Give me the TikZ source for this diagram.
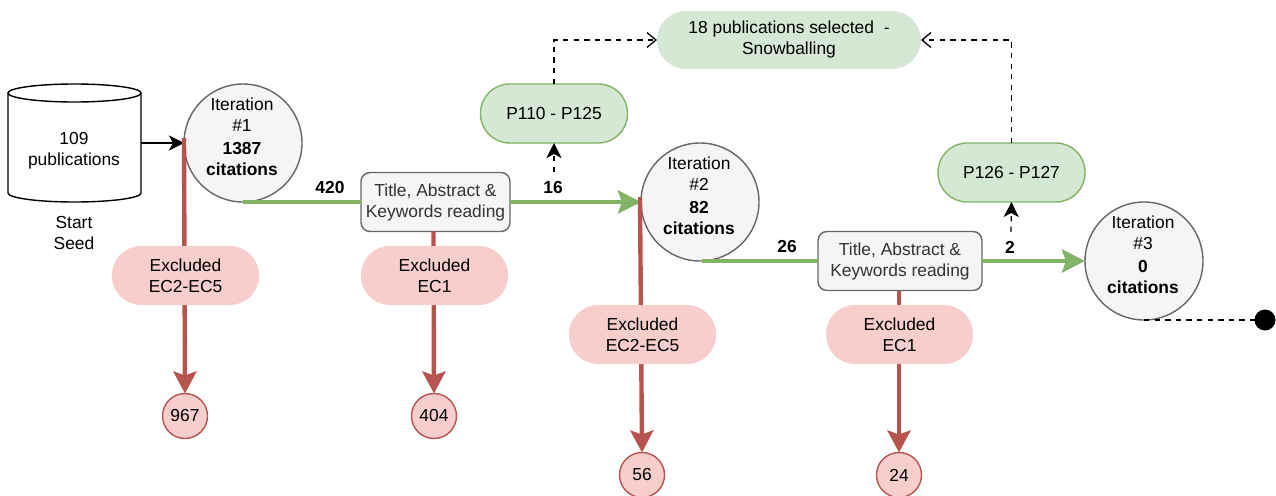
\documentclass[tikz,border=0pt]{standalone}
\usepackage{fontspec}
\setmainfont{Liberation Sans}
\usetikzlibrary{arrows.meta,calc}
\definecolor{grayfill}{HTML}{F5F5F5}
\definecolor{graydraw}{HTML}{666666}
\definecolor{greenfill}{HTML}{D5E8D4}
\definecolor{greendraw}{HTML}{82B366}
\definecolor{redfill}{HTML}{F8CECC}
\definecolor{reddraw}{HTML}{B85450}
\definecolor{boxtext}{HTML}{333333}
\tikzset{
  every node/.style={font=\fontsize{17.4}{21}\selectfont,align=center,inner sep=0pt,outer sep=0pt},
  lowered/.style={execute at begin node={\vspace*{2pt}}},
  iter/.style={circle,draw=graydraw,fill=grayfill,line width=1.4pt,minimum size=118,text=black},
  titlebox/.style={rectangle,rounded corners=9,draw=graydraw,fill=grayfill,line width=1.4pt,text=boxtext,lowered},
  greenpill/.style={rectangle,rounded corners=29,draw=greendraw,fill=greenfill,line width=1.4pt,minimum width=147,minimum height=59,lowered},
  exclpill/.style={rectangle,rounded corners=29,fill=redfill,minimum width=147,minimum height=59,lowered},
  result/.style={circle,draw=reddraw,fill=redfill,line width=1.4pt,minimum size=45},
  countlabel/.style={font=\fontsize{17.4}{21}\selectfont\bfseries},
  greenflow/.style={draw=greendraw,line width=4.6pt},
  greenarrow/.style={greenflow,-{Stealth[length=23pt,width=23pt,inset=4pt]}},
  redarrow/.style={draw=reddraw,line width=4.4pt,-{Stealth[length=22pt,width=23pt,inset=4pt]}},
  dashline/.style={draw=black,line width=1.3pt,dash pattern=on 5.3pt off 5.3pt},
  dashopen/.style={dashline,-{Straight Barb[length=9pt,width=15pt,line width=1.3pt]}},
  dashsolid/.style={dashline,-{Stealth[length=15pt,width=15pt,inset=4pt]}},
  plainarrow/.style={draw=black,line width=1.4pt,-{Stealth[length=15pt,width=15pt,inset=4pt]}},
}
\begin{document}
\begin{tikzpicture}[x=1pt,y=-1pt]
\useasboundingbox (0,0) rectangle (1276,495);
% cylinder
\draw[line width=1.4pt,fill=white] (8,93) -- (8,193) .. controls (8,198) and (38,202) .. (74.5,202) .. controls (111,202) and (141,198) .. (141,193) -- (141,93);
\draw[line width=1.4pt,fill=white] (74.5,93) ellipse [x radius=66.5pt,y radius=9pt];
\node (db) at (74,151) {109\\publications};
\coordinate (dbright) at (141,143);
\node (seed) at (74,233.5) {Start\\Seed};
% iterations
\node[iter] (it1) at (243,143) {};
\node at (242,136.7) {Iteration\\[0pt]\#1\\[2pt]\bfseries 1387\\\bfseries citations};
\node[iter] (it2) at (700,202) {};
\node at (699,195.7) {Iteration\\[0pt]\#2\\[2pt]\bfseries 82\\\bfseries citations};
\node[iter] (it3) at (1144,261) {};
\node at (1143,254.7) {Iteration\\[0pt]\#3\\[2pt]\bfseries 0\\\bfseries citations};
% boxes
\node[titlebox,minimum width=149,minimum height=59] (tb1) at (435.5,202) {Title, Abstract \&\\Keywords reading};
\node[titlebox,minimum width=164,minimum height=59] (tb2) at (900,261) {Title, Abstract \&\\Keywords reading};
\node[greenpill] (p1) at (554,113.5) {P110 - P125};
\node[greenpill] (p2) at (1011.5,172.5) {P126 - P127};
\node[rectangle,rounded corners=29,fill=greenfill,minimum width=264,minimum height=58,lowered] (sel) at (789,40) {18 publications selected\ \ -\\Snowballing};
\node[result] (r1) at (185,416) {967};
\node[result] (r2) at (434,416) {404};
\node[result] (r3) at (642,475) {56};
\node[result] (r4) at (899,475) {24};
\node[circle,fill=black,minimum size=21] (end) at (1265,320) {};
% connectors
\draw[plainarrow] (dbright) -- (it1.west);
\draw[greenflow] (it1.south) -- (tb1.west);
\draw[greenarrow] (tb1.east) -- (it2.west);
\draw[greenflow] ($(it2.south)+(2,0)$) -- (tb2.west);
\draw[greenarrow] (tb2.east) -- (it3.west);
\draw[redarrow] ($(it1.west)+(0,-5)$) -- (r1.north);
\draw[redarrow] ($(it2.west)+(-1,-5)$) -- (r3.north);
\draw[redarrow] ($(tb1.south)+(-2,0)$) -- (r2.north);
\draw[redarrow] ($(tb2.south)+(-1,0)$) -- (r4.north);
\draw[dashsolid] (554,172) -- (p1.south);
\draw[dashsolid] (1011,232) -- (p2.south);
\draw[dashopen] (p1.north) |- (sel.west);
\draw[dashopen] (p2.north) |- (sel.east);
\draw[dashline] (it3.south) -- (end.west);
% excluded pills, over the red lines
\node[exclpill] (ex1) at (185.5,275.5) {Excluded\\EC2-EC5};
\node[exclpill] (ex2) at (434.5,275.5) {Excluded\\EC1};
\node[exclpill] (ex3) at (642.5,334.5) {Excluded\\EC2-EC5};
\node[exclpill] (ex4) at (899.5,334.5) {Excluded\\EC1};
% counts
\node[countlabel] at (330,188) {420};
\node[countlabel] at (553,188) {16};
\node[countlabel] at (787,247) {26};
\node[countlabel] at (1010,247) {2};
\end{tikzpicture}
\end{document}
